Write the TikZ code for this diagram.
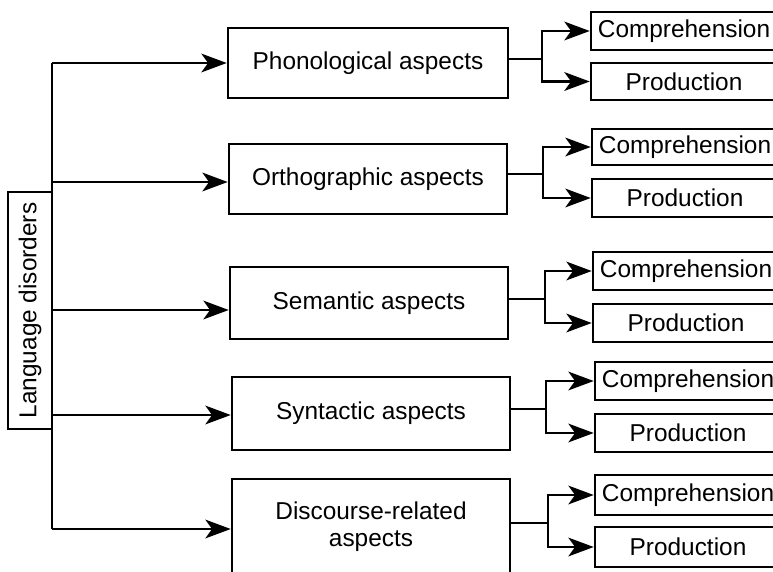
\documentclass[tikz,border=0pt]{standalone}
\usepackage{fontspec}
\setmainfont{Liberation Sans}
\usetikzlibrary{arrows.meta}
\tikzset{
  ln/.style={line width=1.9pt},
  arr/.style={line width=1.9pt, -{Stealth[length=19pt,width=14pt,inset=5pt]}},
  box/.style={draw, line width=1.9pt, inner sep=0pt, font=\fontsize{18.3}{20.5}\selectfont, align=center},
  midbox/.style={box, minimum width=208.5pt},
  outbox/.style={box, minimum width=139.5pt},
}
\begin{document}
\begin{tikzpicture}[x=0.75pt,y=-0.75pt]
\useasboundingbox (0,0) rectangle (773,571);
\clip (0,0) rectangle (773,571);
\fill[white] (0,0) rectangle (773,571);

% left box
\node[box, rotate=90, minimum width=177.75pt, minimum height=33pt] (lang) at (30,310.5) {Language disorders};

% middle boxes
\node[midbox, minimum width=210pt, minimum height=52.5pt] (ph) at (368,63) {Phonological aspects};
\node[midbox, minimum height=52.5pt] (or) at (368,179) {Orthographic aspects};
\node[midbox, minimum height=54pt] (se) at (369,303) {Semantic aspects};
\node[midbox, minimum height=54.75pt] (sy) at (371,413.5) {Syntactic aspects};
\node[midbox, minimum height=72pt] (di) at (371,527) {Discourse-related\\aspects};

% trunk
\coordinate (t1) at (52,63);
\coordinate (t2) at (52,182);
\coordinate (t3) at (52,310);
\coordinate (t4) at (52,415);
\coordinate (t5) at (52,529);
\draw[ln] (t1) -- (t5);
\draw[arr] (t1) -- (t1 -| ph.west);
\draw[arr] (t2) -- (t2 -| or.west);
\draw[arr] (t3) -- (t3 -| se.west);
\draw[arr] (t4) -- (t4 -| sy.west);
\draw[arr] (t5) -- (t5 -| di.west);

% output boxes
\node[outbox, minimum height=28.5pt] (c1) at (684,31) {Comprehension};
\node[outbox, minimum height=27.75pt] (p1) at (684,81.5) {Production};
\node[outbox, minimum height=27pt] (c2) at (685,147) {Comprehension};
\node[outbox, minimum height=28.5pt] (p2) at (685,198) {Production};
\node[outbox, minimum height=28.5pt] (c3) at (686,271) {Comprehension};
\node[outbox, minimum height=28.5pt] (p3) at (686,323) {Production};
\node[outbox, minimum height=28.5pt] (c4) at (688,381) {Comprehension};
\node[outbox, minimum height=28.5pt] (p4) at (688,433) {Production};
\node[outbox, minimum height=30pt] (c5) at (688,495) {Comprehension};
\node[outbox, minimum height=30pt] (p5) at (688,547) {Production};

% junctions
\coordinate (j1) at (542,59);
\coordinate (j2) at (543,174);
\coordinate (j3) at (545,299);
\coordinate (j4) at (546,409);
\coordinate (j5) at (548,523);

\draw[ln] (ph.east |- j1) -- (j1);
\draw[arr] (j1) |- (c1.west);
\draw[arr] (j1) |- (p1.west);

\draw[ln] (or.east |- j2) -- (j2);
\draw[arr] (j2) |- (c2.west);
\draw[arr] (j2) |- (p2.west);

\draw[ln] (se.east |- j3) -- (j3);
\draw[arr] (j3) |- (c3.west);
\draw[arr] (j3) |- (p3.west);

\draw[ln] (sy.east |- j4) -- (j4);
\draw[arr] (j4) |- (c4.west);
\draw[arr] (j4) |- (p4.west);

\draw[ln] (di.east |- j5) -- (j5);
\draw[arr] (j5) |- (c5.west);
\draw[arr] (j5) |- (p5.west);
\end{tikzpicture}
\end{document}
